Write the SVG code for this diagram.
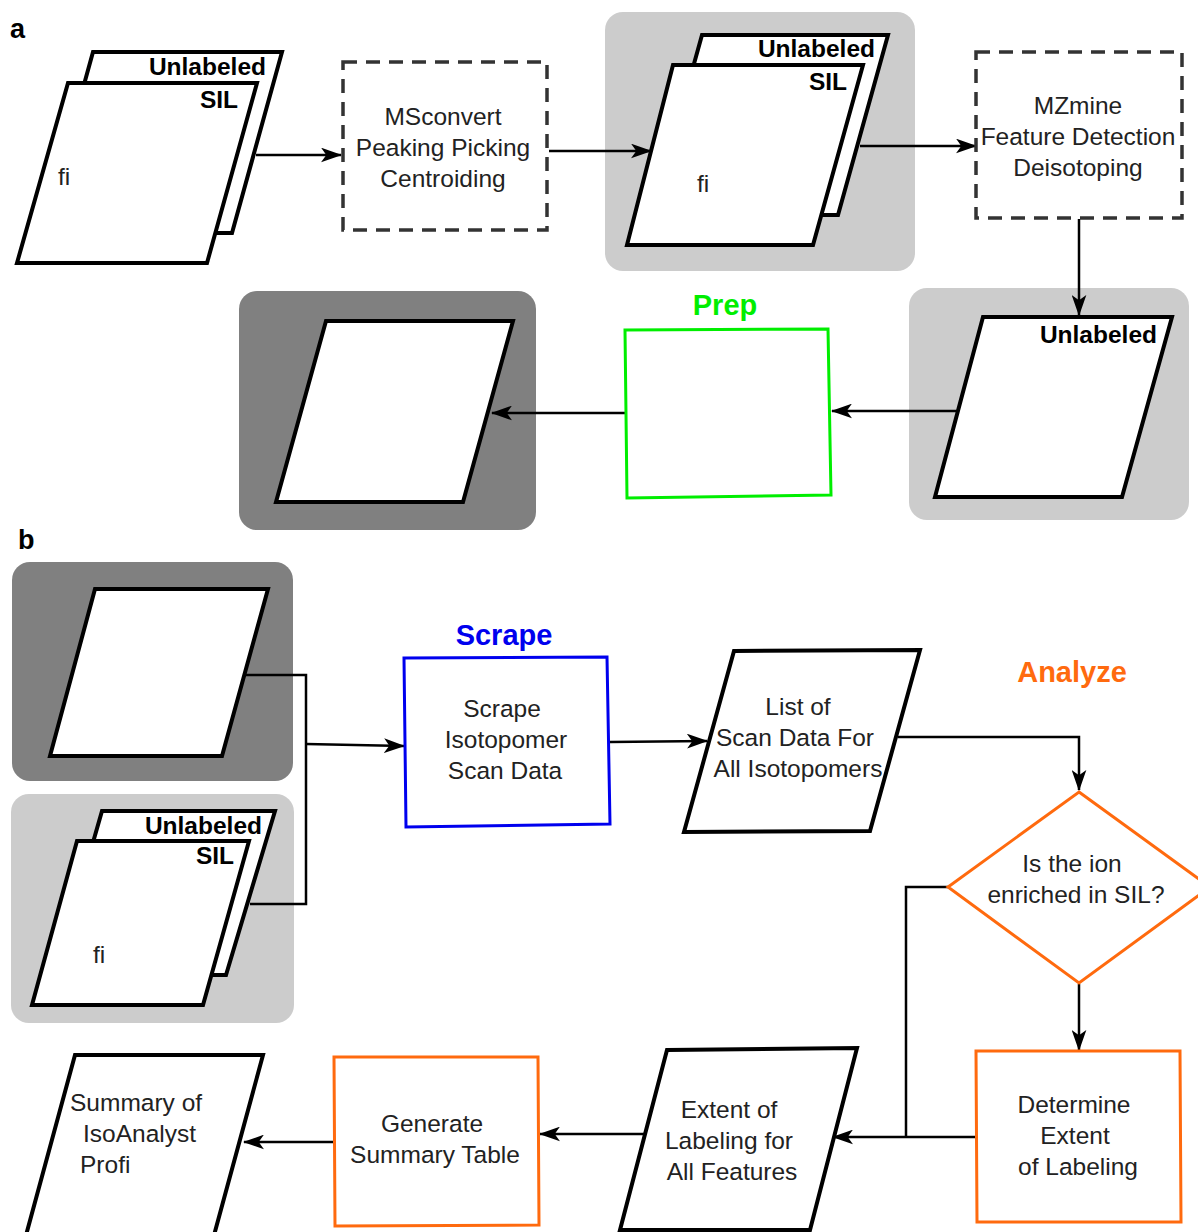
<svg xmlns="http://www.w3.org/2000/svg" width="1198" height="1232" viewBox="0 0 1198 1232">
<defs>
<marker id="arr" viewBox="0 0 20 14" markerWidth="21" markerHeight="15" refX="19" refY="7" orient="auto" markerUnits="userSpaceOnUse">
<path d="M0,0 L20,7 L0,14 L5,7 z" fill="#000"/>
</marker>
</defs>
<style>
.doc{fill:#fff;stroke:#000;stroke-width:4;stroke-linejoin:miter}
.lt{fill:#cccccc}
.dk{fill:#808080}
.dash{fill:#fff;stroke:#333;stroke-width:3.5;stroke-dasharray:14,9}
.t{font-family:"Liberation Sans",Arial,sans-serif;font-size:24.5px;fill:#222;text-anchor:middle}
.tl{font-family:"Liberation Sans",Arial,sans-serif;font-size:24.5px;fill:#222}
.b{font-family:"Liberation Sans",Arial,sans-serif;font-size:24.5px;font-weight:bold;fill:#000;text-anchor:end}
.h{font-family:"Liberation Sans",Arial,sans-serif;font-size:29px;font-weight:bold;text-anchor:middle}
.pl{font-family:"Liberation Sans",Arial,sans-serif;font-size:27px;font-weight:bold;fill:#000}
.c{fill:none;stroke:#000;stroke-width:2.5}
.ca{fill:none;stroke:#000;stroke-width:2.5;marker-end:url(#arr)}
.og{fill:#fff;stroke:#ff6a0e;stroke-width:3}
</style>

<text class="pl" x="10" y="38">a</text>
<text class="pl" x="18" y="549">b</text>

<!-- backgrounds -->
<rect class="lt" x="605" y="12" width="310" height="259" rx="18"/>
<rect class="lt" x="909" y="288" width="280" height="232" rx="18"/>
<rect class="dk" x="239" y="291" width="297" height="239" rx="18"/>
<rect class="dk" x="12" y="562" width="281" height="219" rx="18"/>
<rect class="lt" x="11" y="794" width="283" height="229" rx="18"/>

<g id="connectors">
<line class="ca" x1="256" y1="155" x2="341" y2="155"/>
<line class="ca" x1="549" y1="151" x2="651" y2="151"/>
<line class="ca" x1="860" y1="146" x2="976" y2="146"/>
<line class="ca" x1="1079" y1="219" x2="1079" y2="315"/>
<line class="ca" x1="958" y1="411" x2="832" y2="411"/>
<line class="ca" x1="625" y1="413" x2="492" y2="413"/>
<polyline class="c" points="245,675 306,675 306,904 250,904"/>
<line class="ca" x1="306" y1="744" x2="404" y2="746"/>
<line class="ca" x1="610" y1="742" x2="707" y2="741"/>
<polyline class="ca" points="898,737 1079,737 1079,790"/>
<polyline class="c" points="948,887 906,887 906,1137"/>
<line class="ca" x1="1079" y1="984" x2="1079" y2="1050"/>
<line class="ca" x1="976" y1="1137" x2="833" y2="1137"/>
<line class="ca" x1="645" y1="1134" x2="540" y2="1134"/>
<line class="ca" x1="334" y1="1142" x2="244" y2="1142"/>
</g>

<g id="stack1">
<polygon class="doc" points="93,52 282,52 232,233 43,233"/>
<text class="b" x="266" y="75">Unlabeled</text>
<polygon class="doc" points="68,83 257,83 207,263 17,263"/>
<text class="b" x="238" y="108">SIL</text>
<text class="tl" x="58" y="185">fi</text>
</g>

<g id="msconvert">
<rect class="dash" x="343" y="62" width="204" height="168"/>
<text class="t" x="443" y="125">MSconvert</text>
<text class="t" x="443" y="156">Peaking Picking</text>
<text class="t" x="443" y="187">Centroiding</text>
</g>

<g id="stack2">
<polygon class="doc" points="702,35 888,35 838,215 652,215"/>
<text class="b" x="875" y="57">Unlabeled</text>
<polygon class="doc" points="673,65 863,65 813,245 627,245"/>
<text class="b" x="847" y="90">SIL</text>
<text class="tl" x="697" y="192">fi</text>
</g>

<g id="mzmine">
<rect class="dash" x="976" y="52" width="206" height="166"/>
<text class="t" x="1078" y="114">MZmine</text>
<text class="t" x="1078" y="145">Feature Detection</text>
<text class="t" x="1078" y="176">Deisotoping</text>
</g>

<g id="unlabeled">
<polygon class="doc" points="983,317 1172,317 1122,497 935,497"/>
<text class="b" x="1157" y="343">Unlabeled</text>
</g>

<g id="prep">
<text class="h" x="725" y="315" fill="#00ee00">Prep</text>
<polygon points="625,330 828,329 831,495 627,498" fill="#fff" stroke="#00ee00" stroke-width="3"/>
</g>

<g id="prepout">
<polygon class="doc" points="326,321 513,321 463,502 276,502"/>
</g>

<g id="binput1">
<polygon class="doc" points="95,589 268,589 222,756 50,756"/>
</g>

<g id="binput2">
<polygon class="doc" points="102,811 275,811 226,975 55,975"/>
<text class="b" x="262" y="834">Unlabeled</text>
<polygon class="doc" points="77,841 249,841 203,1005 32,1005"/>
<text class="b" x="234" y="864">SIL</text>
<text class="tl" x="93" y="963">fi</text>
</g>

<g id="scrape">
<text class="h" x="504" y="645" fill="#0000ee">Scrape</text>
<polygon points="404,658 607,657 610,824 406,827" fill="#fff" stroke="#0000ee" stroke-width="3"/>
<text class="t" x="502" y="717">Scrape</text>
<text class="t" x="506" y="748">Isotopomer</text>
<text class="t" x="505" y="779">Scan Data</text>
</g>

<g id="list">
<polygon class="doc" points="734,651 920,650 870,831 684,832"/>
<text class="t" x="798" y="715">List of</text>
<text class="t" x="795" y="746">Scan Data For</text>
<text class="t" x="798" y="777">All Isotopomers</text>
</g>

<g id="decision">
<text class="h" x="1072" y="682" fill="#ff6a0e">Analyze</text>
<polygon class="og" points="1079,792 1210,887 1079,983 948,887"/>
<text class="t" x="1072" y="872">Is the ion</text>
<text class="t" x="1076" y="903">enriched in SIL?</text>
</g>

<g id="determine">
<polygon class="og" points="976,1051 1180,1051 1181,1222 977,1222"/>
<text class="t" x="1074" y="1113">Determine</text>
<text class="t" x="1075" y="1144">Extent</text>
<text class="t" x="1078" y="1175">of Labeling</text>
</g>

<g id="extent">
<polygon class="doc" points="667,1050 857,1048 810,1230 620,1230"/>
<text class="t" x="729" y="1118">Extent of</text>
<text class="t" x="729" y="1149">Labeling for</text>
<text class="t" x="732" y="1180">All Features</text>
</g>

<g id="generate">
<polygon class="og" points="334,1057 538,1057 539,1225 335,1226"/>
<text class="t" x="432" y="1132">Generate</text>
<text class="t" x="435" y="1163">Summary Table</text>
</g>

<g id="summary">
<polygon class="doc" points="75,1055 263,1055 210,1250 22,1250"/>
<text class="tl" x="70" y="1111">Summary of</text>
<text class="tl" x="83" y="1142">IsoAnalyst</text>
<text class="tl" x="80" y="1173">Profi</text>
</g>
</svg>
